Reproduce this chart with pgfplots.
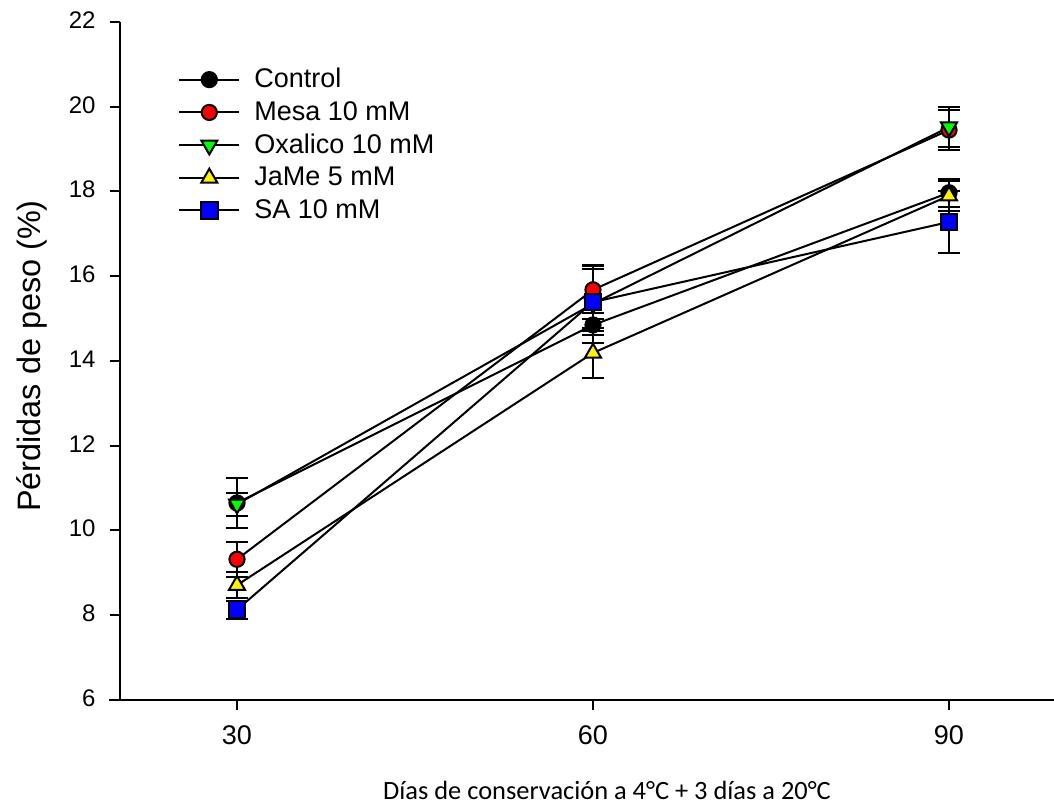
\documentclass[border=0pt]{standalone}
\usepackage{pgfplots}
\pgfplotsset{compat=1.18}
\usepackage{fontspec}
\setmainfont{Liberation Sans}
\newfontfamily\calibri{Carlito}
\begin{document}
\begin{tikzpicture}
\begin{axis}[
  scale only axis, width=467pt, height=339pt,
  xmin=20.14, xmax=98.85, ymin=6, ymax=22,
  axis lines=left,
  axis line style={-, line width=1pt},
  x axis line style={-, shorten <=-5.5pt},
  y axis line style={-},
  xtick={30,60,90}, ytick={6,8,...,22},
  minor tick num=0,
  tick align=outside, major tick length=5.2pt,
  tick style={line width=1pt, black},
  /pgf/number format/assume math mode=true,
  yticklabel style={font=\fontsize{12}{14}\selectfont, xshift=-3.5pt, yshift=1pt},
  xticklabel style={font=\fontsize{13.5}{15}\selectfont, yshift=-4pt},
  xlabel={Días de conservación a 4°C + 3 días a 20°C},
  ylabel={Pérdidas de peso (\%)},
  every axis x label/.style={at={(axis description cs:0.5214,-0.1327)},anchor=center,font=\calibri\fontsize{13.2}{15}\selectfont},
  every axis y label/.style={at={(axis description cs:-0.0942,0.5074)},anchor=center,rotate=90,font=\fontsize{16.2}{18}\selectfont},
  legend style={at={(axis description cs:0.0556,0.944)}, anchor=north west, draw=none, fill=none,
    font=\fontsize{13.5}{15}\selectfont, row sep=1.3pt, nodes={inner sep=2pt}},
  legend cell align=left,
  legend image code/.code={\draw[mark repeat=2,mark phase=2] plot coordinates {(0pt,0pt)(15pt,0pt)(30pt,0pt)}; \path (35pt,0pt);},
  every axis plot/.append style={line width=1pt, black},
  error bars/y dir=both, error bars/y explicit,
  error bars/error bar style={line width=1pt, black},
  error bars/error mark options={rotate=90, line width=1pt, black, mark size=5.5pt},
]
\addplot[mark=*, mark size=3.8pt, mark options={fill=black, draw=black}]
  table[x=x, y=y, y error=e] {
x y e
30 10.65 0.58
60 14.85 0.15
90 17.97 0.33
};
\addlegendentry{Control}
\addplot[mark=*, mark size=3.8pt, mark options={fill=red, draw=black}]
  table[x=x, y=y, y error=e] {
x y e
30 9.32 0.42
60 15.68 0.55
90 19.45 0.47
};
\addlegendentry{Mesa 10 mM}
\addplot[mark=triangle*, mark size=4.6pt, mark options={fill=green, draw=black, rotate=180}]
  table[x=x, y=y, y error=e] {
x y e
30 10.62 0.27
60 15.35 0.92
90 19.52 0.48
};
\addlegendentry{Oxalico 10 mM}
\addplot[mark=triangle*, mark size=4.6pt, mark options={fill=yellow, draw=black}]
  table[x=x, y=y, y error=e] {
x y e
30 8.71 0.31
60 14.19 0.6
90 17.90 0.35
};
\addlegendentry{JaMe 5 mM}
\addplot[mark=square*, mark size=4.2pt, mark options={fill=blue, draw=black}]
  table[x=x, y=y, y error=e] {
x y e
30 8.13 0.21
60 15.39 0.78
90 17.28 0.72
};
\addlegendentry{SA 10 mM}
\end{axis}
\pgfresetboundingbox
\path (-60pt,-53.5pt) rectangle (467pt,350pt);
\end{tikzpicture}
\end{document}
